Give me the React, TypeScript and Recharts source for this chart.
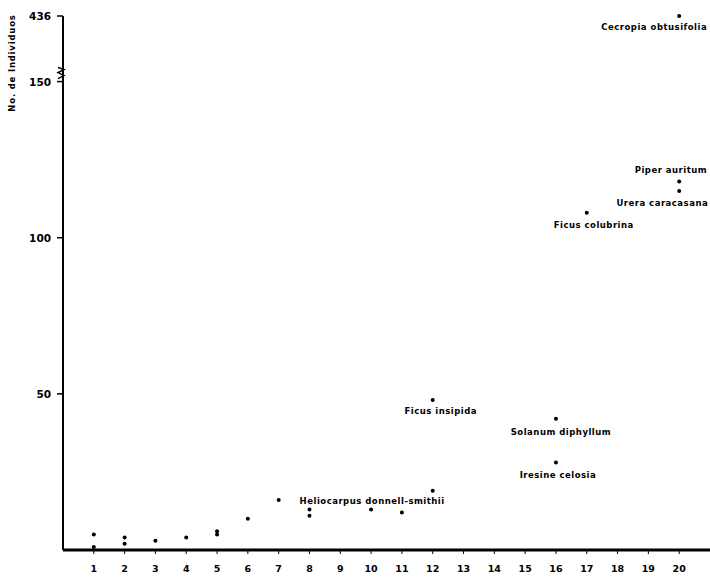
import React from "react";
import { ScatterChart, Scatter, XAxis, YAxis } from "recharts";

// species number (x) and number of individuals (y), one entry per plotted point
const speciesRank = [1, 1, 2, 2, 3, 4, 5, 5, 6, 7, 8, 8, 10, 11, 12, 12, 16, 16, 17, 20, 20, 20];
const individuals = [5, 1, 4, 2, 3, 4, 6, 5, 10, 16, 13, 11, 13, 12, 48, 19, 42, 28, 108, 118, 115, 436];
const speciesNames: (string | null)[] = [
  null, null, null, null, null, null, null, null, null, null, null, null, null, null,
  "Ficus insipida",
  "Heliocarpus donnell-smithii",
  "Solanum diphyllum",
  "Iresine celosia",
  "Ficus colubrina",
  "Piper auritum",
  "Urera caracasana",
  "Cecropia obtusifolia",
];

const xTicks = [1, 2, 3, 4, 5, 6, 7, 8, 9, 10, 11, 12, 13, 14, 15, 16, 17, 18, 19, 20];
const yTickValues = [50, 100, 150, 436];

// y axis is broken above 150: the rest is squeezed into a short band
const BREAK = 150;
const TOP = 436;
const toAxis = (v: number) => (v <= BREAK ? v : BREAK + ((v - BREAK) * 21) / (TOP - BREAK));
const fromAxis = (a: number) => (a <= BREAK ? a : Math.round(BREAK + ((a - BREAK) * (TOP - BREAK)) / 21));

const data = speciesRank.map((x, i) => ({
  x,
  y: toAxis(individuals[i]),
  count: individuals[i],
  name: speciesNames[i],
}));

// where each species label sits relative to its dot
const labelPlacement: Record<string, { dx: number; dy: number; anchor: "start" | "middle" | "end" }> = {
  "Cecropia obtusifolia": { dx: 28, dy: 14, anchor: "end" },
  "Piper auritum": { dx: 28, dy: -9, anchor: "end" },
  "Urera caracasana": { dx: 29, dy: 15, anchor: "end" },
  "Ficus colubrina": { dx: 7, dy: 15, anchor: "middle" },
  "Ficus insipida": { dx: 8, dy: 14, anchor: "middle" },
  "Solanum diphyllum": { dx: 5, dy: 16, anchor: "middle" },
  "Iresine celosia": { dx: 2, dy: 15, anchor: "middle" },
  "Heliocarpus donnell-smithii": { dx: 12, dy: 13, anchor: "end" },
};

const font = "'DejaVu Sans', sans-serif";

const PointShape = (props: any) => {
  const { cx, cy, payload } = props;
  const place = payload.name ? labelPlacement[payload.name] : null;
  return (
    <g>
      <circle cx={cx} cy={cy} r={2} fill="#000" />
      {place && (
        <text
          x={cx + place.dx}
          y={cy + place.dy}
          textAnchor={place.anchor}
          fontFamily={font}
          fontWeight="bold"
          fontSize={8.5}
          letterSpacing={0.5}
          fill="#000"
        >
          {payload.name}
        </text>
      )}
    </g>
  );
};

const YTick = (props: any) => {
  const { x, y, payload } = props;
  const axisX = x + 6;
  return (
    <g>
      <text
        x={x - 4}
        y={y + 4}
        textAnchor="end"
        fontFamily={font}
        fontWeight="bold"
        fontSize={10.5}
        fill="#000"
      >
        {fromAxis(payload.value)}
      </text>
      {payload.value === BREAK && (
        <polyline
          points={`${axisX - 3},${y - 14} ${axisX + 3},${y - 12} ${axisX - 3},${y - 9} ${axisX + 3},${y - 6} ${axisX - 3},${y - 3}`}
          fill="none"
          stroke="#000"
          strokeWidth={1.5}
        />
      )}
    </g>
  );
};

export default function App() {
  return (
    <div style={{ position: "absolute", left: 0, top: 0, width: 710, height: 578, background: "#fff" }}>
      <ScatterChart width={710} height={578} margin={{ top: 16, right: 0, bottom: 0, left: 0 }}>
        <XAxis
          type="number"
          dataKey="x"
          domain={[0, 21]}
          ticks={xTicks}
          interval={0}
          height={28}
          axisLine={{ stroke: "#000", strokeWidth: 3 }}
          tickLine={{ stroke: "#000", strokeWidth: 1 }}
          tickSize={4}
          tick={{ fill: "#000", fontFamily: font, fontWeight: "bold", fontSize: 9.5 }}
          tickMargin={11}
        />
        <YAxis
          type="number"
          dataKey="y"
          domain={[0, toAxis(TOP)]}
          ticks={yTickValues.map(toAxis)}
          interval={0}
          width={63}
          axisLine={{ stroke: "#000", strokeWidth: 2 }}
          tickLine={{ stroke: "#000", strokeWidth: 1.5 }}
          tickSize={6}
          tick={<YTick />}
          label={{
            value: "No. de Individuos",
            position: "insideTopLeft",
            content: () => (
              <text
                x={15}
                y={63}
                transform="rotate(-90 15 63)"
                textAnchor="middle"
                fontFamily={font}
                fontWeight="bold"
                fontSize={8.5}
                letterSpacing={0.8}
                fill="#000"
              >
                No. de Individuos
              </text>
            ),
          }}
        />
        <Scatter data={data} shape={<PointShape />} isAnimationActive={false} />
      </ScatterChart>
    </div>
  );
}
